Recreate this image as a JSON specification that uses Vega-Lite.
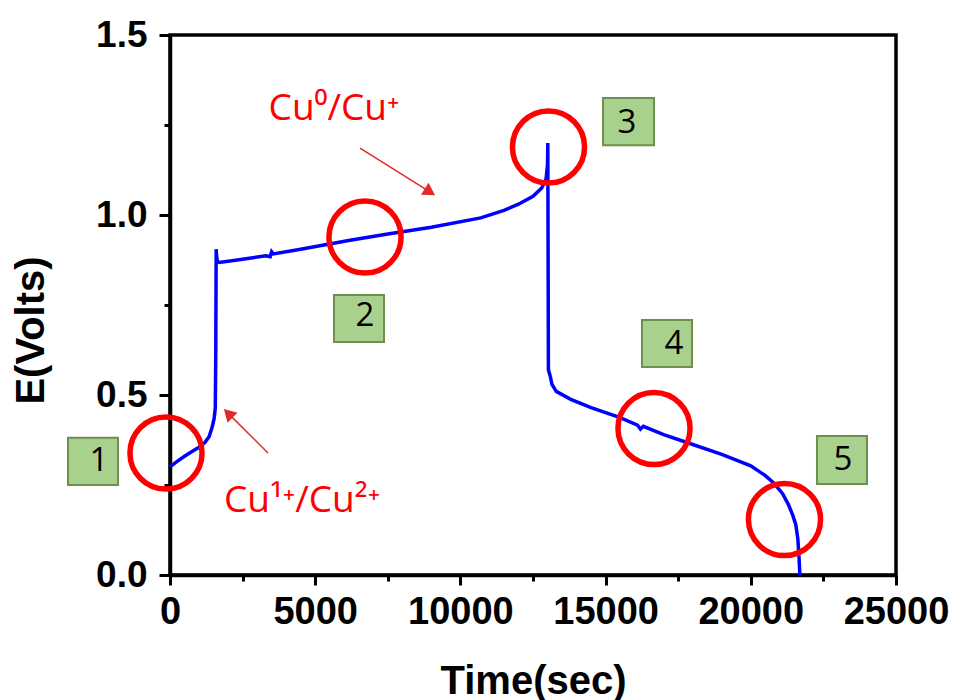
{
  "$schema": "https://vega.github.io/schema/vega-lite/v6.json",
  "width": 726,
  "height": 540,
  "autosize": {"type": "none"},
  "padding": {"left": 170, "top": 35, "right": 65, "bottom": 125},
  "background": "white",
  "config": {
    "view": {"stroke": "black", "strokeWidth": 3.5},
    "axis": {"grid": false}
  },
  "datasets": {
    "curve": [
      {"i": 1, "t": 0, "e": 0.30},
      {"i": 2, "t": 200, "e": 0.313},
      {"i": 3, "t": 500, "e": 0.33},
      {"i": 4, "t": 800, "e": 0.345},
      {"i": 5, "t": 1000, "e": 0.355},
      {"i": 6, "t": 1200, "e": 0.368},
      {"i": 7, "t": 1350, "e": 0.385},
      {"i": 8, "t": 1450, "e": 0.41},
      {"i": 9, "t": 1520, "e": 0.435},
      {"i": 10, "t": 1560, "e": 0.465},
      {"i": 11, "t": 1575, "e": 0.6},
      {"i": 12, "t": 1585, "e": 0.8},
      {"i": 13, "t": 1590, "e": 0.905},
      {"i": 14, "t": 1600, "e": 0.89},
      {"i": 15, "t": 1630, "e": 0.872},
      {"i": 16, "t": 1700, "e": 0.868},
      {"i": 17, "t": 2500, "e": 0.877},
      {"i": 18, "t": 3300, "e": 0.887},
      {"i": 19, "t": 3450, "e": 0.884},
      {"i": 20, "t": 3500, "e": 0.898},
      {"i": 21, "t": 3560, "e": 0.892},
      {"i": 22, "t": 4500, "e": 0.905},
      {"i": 23, "t": 6200, "e": 0.93},
      {"i": 24, "t": 7500, "e": 0.947},
      {"i": 25, "t": 9000, "e": 0.966},
      {"i": 26, "t": 10700, "e": 0.992},
      {"i": 27, "t": 11500, "e": 1.013},
      {"i": 28, "t": 12000, "e": 1.03},
      {"i": 29, "t": 12500, "e": 1.052},
      {"i": 30, "t": 12800, "e": 1.075},
      {"i": 31, "t": 12950, "e": 1.10},
      {"i": 32, "t": 13000, "e": 1.14},
      {"i": 33, "t": 13010, "e": 1.20},
      {"i": 34, "t": 13020, "e": 0.9},
      {"i": 35, "t": 13030, "e": 0.57},
      {"i": 36, "t": 13100, "e": 0.55},
      {"i": 37, "t": 13150, "e": 0.53},
      {"i": 38, "t": 13300, "e": 0.51},
      {"i": 39, "t": 13800, "e": 0.488},
      {"i": 40, "t": 14500, "e": 0.465},
      {"i": 41, "t": 15500, "e": 0.437},
      {"i": 42, "t": 16100, "e": 0.416},
      {"i": 43, "t": 16200, "e": 0.405},
      {"i": 44, "t": 16300, "e": 0.413},
      {"i": 45, "t": 17000, "e": 0.39},
      {"i": 46, "t": 17800, "e": 0.368},
      {"i": 47, "t": 19000, "e": 0.335},
      {"i": 48, "t": 20000, "e": 0.303},
      {"i": 49, "t": 20500, "e": 0.276},
      {"i": 50, "t": 20800, "e": 0.255},
      {"i": 51, "t": 21100, "e": 0.225},
      {"i": 52, "t": 21300, "e": 0.195},
      {"i": 53, "t": 21450, "e": 0.165},
      {"i": 54, "t": 21550, "e": 0.14},
      {"i": 55, "t": 21620, "e": 0.10},
      {"i": 56, "t": 21660, "e": 0.05},
      {"i": 57, "t": 21690, "e": 0.0}
    ],
    "circles": [
      {"t": -138, "e": 0.339},
      {"t": 6715, "e": 0.939},
      {"t": 13034, "e": 1.189},
      {"t": 16667, "e": 0.407},
      {"t": 21160, "e": 0.154}
    ],
    "boxes": [
      {"n": "1", "t1": -3512, "t2": -1791, "e1": 0.381, "e2": 0.25, "tx": -2445, "ey": 0.316},
      {"n": "2", "t1": 5647, "t2": 7369, "e1": 0.778, "e2": 0.647, "tx": 6715, "ey": 0.719},
      {"n": "3", "t1": 14910, "t2": 16667, "e1": 1.325, "e2": 1.194, "tx": 15737, "ey": 1.256},
      {"n": "4", "t1": 16253, "t2": 17975, "e1": 0.708, "e2": 0.578, "tx": 17355, "ey": 0.642},
      {"n": "5", "t1": 22279, "t2": 24001, "e1": 0.386, "e2": 0.253, "tx": 23175, "ey": 0.319}
    ],
    "arrows": [
      {"name": "a1", "t1": 3375, "e1": 0.339, "t2": 2004, "e2": 0.449},
      {"name": "a2", "t1": 6543, "e1": 1.186, "t2": 8950, "e2": 1.064}
    ],
    "labels": [
      {"label": "Cu⁰/Cu⁺", "t": 5647, "e": 1.264},
      {"label": "Cu¹⁺/Cu²⁺", "t": 4545, "e": 0.175}
    ]
  },
  "encoding": {
    "x": {
      "type": "quantitative",
      "scale": {"domain": [0, 25000], "nice": false, "zero": false},
      "axis": {
        "title": "Time(sec)",
        "values": [0, 2500, 5000, 7500, 10000, 12500, 15000, 17500, 20000, 22500, 25000],
        "labelExpr": "datum.value % 5000 === 0 ? format(datum.value, 'd') : ''",
        "labelFont": "Liberation Sans",
        "labelFontWeight": "bold",
        "labelFontSize": 38,
        "labelColor": "black",
        "labelPadding": 8,
        "labelFlush": false,
        "labelOverlap": false,
        "domainColor": "black",
        "domainWidth": 3.5,
        "tickColor": "black",
        "tickWidth": 3,
        "tickSize": {"condition": {"test": "datum.value % 5000 !== 0", "value": 6}, "value": 10},
        "titleFont": "Liberation Sans",
        "titleFontWeight": "bold",
        "titleFontSize": 40,
        "titleColor": "black",
        "titleBaseline": "alphabetic",
        "titleY": 118
      }
    },
    "y": {
      "type": "quantitative",
      "scale": {"domain": [0, 1.5], "nice": false, "zero": false},
      "axis": {
        "title": "E(Volts)",
        "values": [0, 0.25, 0.5, 0.75, 1.0, 1.25, 1.5],
        "labelExpr": "datum.value % 0.5 === 0 ? format(datum.value, '.1f') : ''",
        "labelFont": "Liberation Sans",
        "labelFontWeight": "bold",
        "labelFontSize": 37,
        "labelColor": "black",
        "labelPadding": 12,
        "labelFlush": false,
        "labelOverlap": false,
        "domainColor": "black",
        "domainWidth": 3.5,
        "tickColor": "black",
        "tickWidth": 3,
        "tickSize": {"condition": {"test": "datum.value % 0.5 !== 0", "value": 6}, "value": 11},
        "titleFont": "Liberation Sans",
        "titleFontWeight": "bold",
        "titleFontSize": 40,
        "titleColor": "black",
        "titleBaseline": "alphabetic",
        "titleAngle": -90,
        "titleX": -127,
        "titleY": 295
      }
    }
  },
  "layer": [
    {
      "data": {"name": "curve"},
      "mark": {"type": "line", "color": "#0000ff", "strokeWidth": 3.5},
      "encoding": {
        "x": {"field": "t", "type": "quantitative"},
        "y": {"field": "e", "type": "quantitative"},
        "order": {"field": "i", "type": "quantitative"}
      }
    },
    {
      "data": {"name": "arrows"},
      "mark": {"type": "rule", "color": "#e02a2a", "strokeWidth": 1.5},
      "encoding": {
        "x": {"field": "t1", "type": "quantitative"},
        "y": {"field": "e1", "type": "quantitative"},
        "x2": {"field": "t2"},
        "y2": {"field": "e2"}
      }
    },
    {
      "data": {"name": "arrows"},
      "transform": [{"filter": "datum.name === 'a1'"}],
      "mark": {"type": "point", "shape": "triangle-up", "filled": true, "color": "#e02a2a", "size": 200, "angle": 315, "opacity": 1},
      "encoding": {
        "x": {"field": "t2", "type": "quantitative"},
        "y": {"field": "e2", "type": "quantitative"}
      }
    },
    {
      "data": {"name": "arrows"},
      "transform": [{"filter": "datum.name === 'a2'"}],
      "mark": {"type": "point", "shape": "triangle-up", "filled": true, "color": "#e02a2a", "size": 200, "angle": 122, "opacity": 1},
      "encoding": {
        "x": {"field": "t2", "type": "quantitative"},
        "y": {"field": "e2", "type": "quantitative"}
      }
    },
    {
      "data": {"name": "circles"},
      "mark": {"type": "point", "shape": "circle", "filled": false, "color": "#ff0000", "size": 5200, "strokeWidth": 5.5, "opacity": 1},
      "encoding": {
        "x": {"field": "t", "type": "quantitative"},
        "y": {"field": "e", "type": "quantitative"}
      }
    },
    {
      "data": {"name": "boxes"},
      "mark": {"type": "rect", "fill": "#a9d18e", "stroke": "#6f8f4e", "strokeWidth": 2},
      "encoding": {
        "x": {"field": "t1", "type": "quantitative"},
        "x2": {"field": "t2"},
        "y": {"field": "e1", "type": "quantitative"},
        "y2": {"field": "e2"}
      }
    },
    {
      "data": {"name": "boxes"},
      "mark": {"type": "text", "font": "Open Sans", "fontSize": 33, "color": "black", "align": "center", "baseline": "middle"},
      "encoding": {
        "x": {"field": "tx", "type": "quantitative"},
        "y": {"field": "ey", "type": "quantitative"},
        "text": {"field": "n"}
      }
    },
    {
      "data": {"name": "labels"},
      "mark": {"type": "text", "font": "Open Sans", "fontSize": 37, "color": "#ff0000", "align": "center", "baseline": "alphabetic"},
      "encoding": {
        "x": {"field": "t", "type": "quantitative"},
        "y": {"field": "e", "type": "quantitative"},
        "text": {"field": "label"}
      }
    }
  ]
}
